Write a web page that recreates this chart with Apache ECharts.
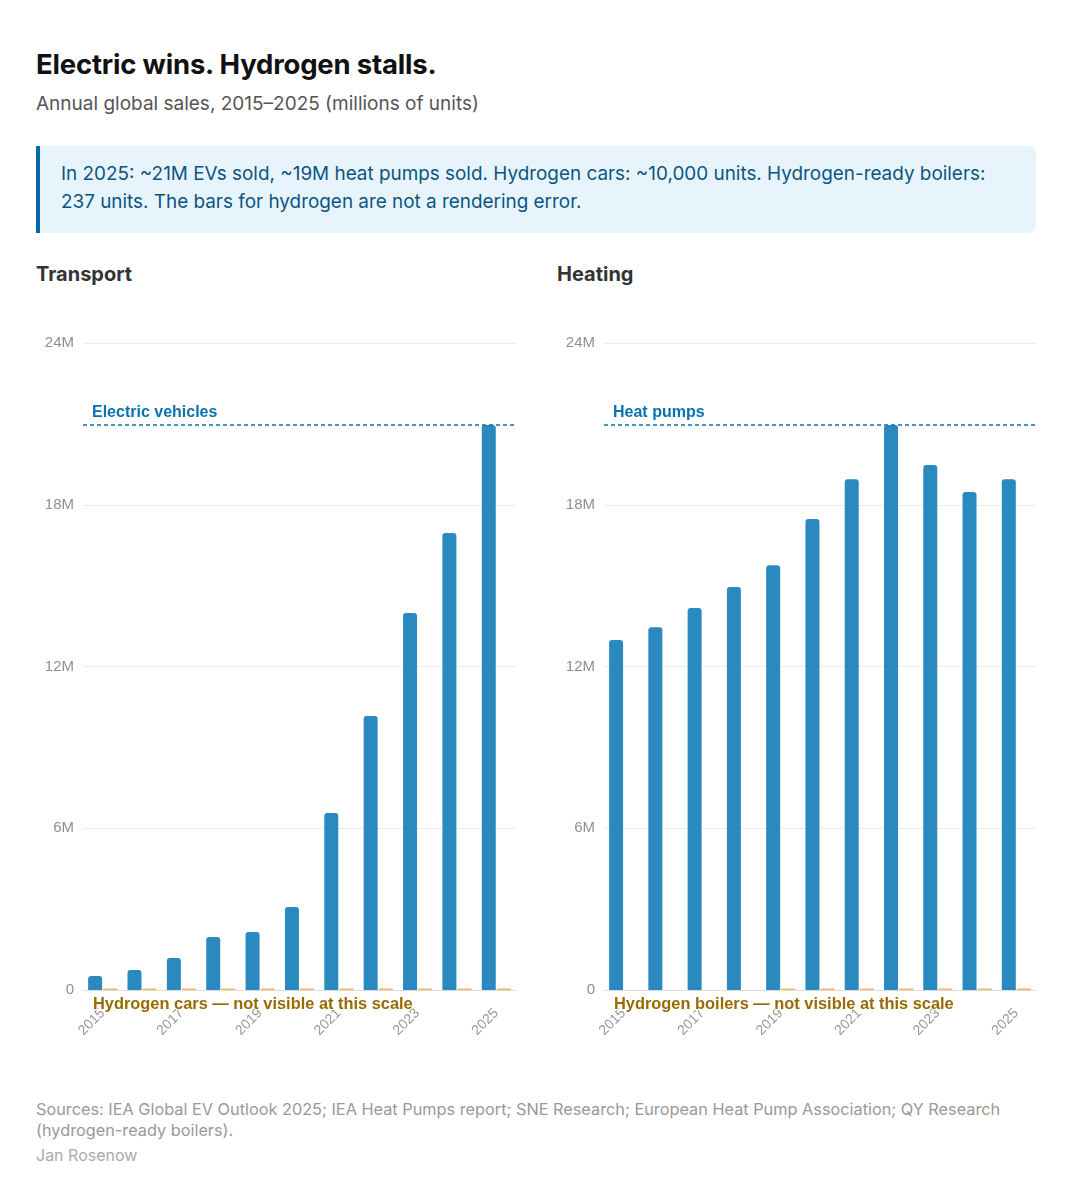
<!DOCTYPE html>
<html>
<head>
<meta charset="utf-8">
<script src="https://cdn.jsdelivr.net/npm/echarts@6/dist/echarts.min.js"></script>
<style>
  html, body { margin: 0; padding: 0; background: #fff; }
  body { width: 1072px; height: 1200px; position: relative; font-family: Inter, "Noto Sans", sans-serif; }
  .title { position: absolute; left: 36px; top: 47px; font-size: 27.5px; font-weight: 700; color: #111; letter-spacing: -0.2px; }
  .subtitle { position: absolute; left: 36px; top: 92px; font-size: 19px; color: #555; }
  .callout { position: absolute; left: 36px; top: 146px; width: 1000px; height: 87px; box-sizing: border-box;
             background: #e8f4fb; border-left: 4px solid #0a6aa8; border-radius: 0 8px 8px 0;
             padding: 14px 20px 0 21px; font-size: 18.9px; line-height: 28px; color: #0b5580; }
  .panel { position: absolute; top: 262px; font-size: 20px; font-weight: 700; color: #333; }
  #chart { position: absolute; left: 0; top: 300px; width: 1072px; height: 770px; }
  .footer { position: absolute; left: 36px; top: 1099px; font-size: 16.3px; line-height: 21px; color: #999; }
  .author { position: absolute; left: 36px; top: 1145px; font-size: 16px; color: #aaa; }
</style>
</head>
<body>
<div class="title">Electric wins. Hydrogen stalls.</div>
<div class="subtitle">Annual global sales, 2015–2025 (millions of units)</div>
<div class="callout">In 2025: ~21M EVs sold, ~19M heat pumps sold. Hydrogen cars: ~10,000 units. Hydrogen-ready boilers:<br>237 units. The bars for hydrogen are not a rendering error.</div>
<div class="panel" style="left:36px">Transport</div>
<div class="panel" style="left:557px">Heating</div>
<div id="chart"></div>
<div class="footer">Sources: IEA Global EV Outlook 2025; IEA Heat Pumps report; SNE Research; European Heat Pump Association; QY Research<br>(hydrogen-ready boilers).</div>
<div class="author">Jan Rosenow</div>
<script>
// ---- data (millions of units) ----
const years = ['2015','2016','2017','2018','2019','2020','2021','2022','2023','2024','2025'];
const evSales = [0.52, 0.74, 1.19, 1.97, 2.15, 3.08, 6.57, 10.16, 13.98, 16.95, 20.96];
const hydrogenCars = [0.0006, 0.0023, 0.0033, 0.004, 0.0075, 0.0093, 0.0165, 0.0151, 0.0167, 0.0128, 0.010];
const heatPumps = [12.98, 13.46, 14.17, 14.95, 15.76, 17.47, 18.95, 20.96, 19.47, 18.47, 18.95];
const hydrogenBoilers = [null, null, null, null, 0.00002, 0.00004, 0.00008, 0.00012, 0.00016, 0.0002, 0.000237];
const yTicks = [0, 6, 12, 18, 24];

const BLUE = '#2a8abf';
const LINE_BLUE = '#0a72b0';
const AMBER_TEXT = '#9a6a00';
const ORANGE = '#f0b860';
const chartFont = '"Liberation Sans", Arial, sans-serif';

const chart = echarts.init(document.getElementById('chart'));

function xAxis(idx) {
  return {
    type: 'category', gridIndex: idx, data: years,
    axisLine: { show: true, lineStyle: { color: '#dddddd' } },
    axisTick: { show: false },
    axisLabel: { interval: 1, rotate: 45, color: '#9a9a9a', fontSize: 14, fontFamily: chartFont, margin: 21 }
  };
}
function yAxis(idx) {
  return {
    type: 'value', gridIndex: idx, min: yTicks[0], max: yTicks[yTicks.length - 1], interval: yTicks[1] - yTicks[0],
    axisLine: { show: false }, axisTick: { show: false },
    splitLine: { lineStyle: { color: '#ececec' } },
    axisLabel: { color: '#8f8f8f', fontSize: 15, fontFamily: chartFont, margin: 9,
                 formatter: v => v === 0 ? '0' : v + 'M' }
  };
}
function mainSeries(idx, data, label) {
  return {
    type: 'bar', xAxisIndex: idx, yAxisIndex: idx, data: data,
    barWidth: 14, barGap: '8%',
    itemStyle: { color: BLUE, borderRadius: [3, 3, 0, 0] },
    markLine: {
      silent: true, symbol: ['none', 'none'],
      data: [{ type: 'max' }],
      lineStyle: { color: LINE_BLUE, type: [4, 3], width: 1.5 },
      label: { show: true, position: 'insideStartTop', distance: [9, 4], formatter: label,
               color: LINE_BLUE, fontSize: 16, fontWeight: 'bold', fontFamily: chartFont }
    }
  };
}
function hydroSeries(idx, data) {
  return {
    type: 'bar', xAxisIndex: idx, yAxisIndex: idx, data: data,
    barWidth: 14, barMinHeight: 1.5,
    itemStyle: { color: ORANGE }
  };
}

chart.setOption({
  animation: false,
  grid: [
    { left: 83, top: 43, width: 433, height: 647 },
    { left: 604, top: 43, width: 432, height: 647 }
  ],
  xAxis: [xAxis(0), xAxis(1)],
  yAxis: [yAxis(0), yAxis(1)],
  series: [
    mainSeries(0, evSales, 'Electric vehicles'),
    hydroSeries(0, hydrogenCars),
    mainSeries(1, heatPumps, 'Heat pumps'),
    hydroSeries(1, hydrogenBoilers)
  ],
  graphic: [
    { type: 'text', left: 92, top: 695, z: 100,
      style: { text: 'Hydrogen cars — not visible at this scale', fill: AMBER_TEXT,
               font: 'bold 16.4px ' + chartFont, stroke: '#fff', lineWidth: 2 } },
    { type: 'text', left: 613, top: 695, z: 100,
      style: { text: 'Hydrogen boilers — not visible at this scale', fill: AMBER_TEXT,
               font: 'bold 16.4px ' + chartFont, stroke: '#fff', lineWidth: 2 } }
  ]
});
</script>
</body>
</html>
